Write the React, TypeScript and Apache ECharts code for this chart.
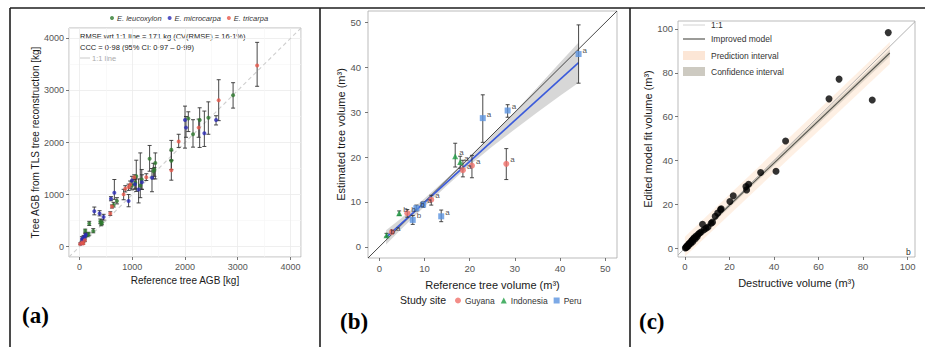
import React, { useEffect, useRef } from 'react';
import * as echarts from 'echarts';

// ---------- Panel (a): [reference AGB, TLS AGB, lower, upper] (kg)
const aLeucoxylon = [
  [60, 100, 70, 130], [108, 305, 275, 335], [150, 220, 190, 250], [172, 241, 210, 275],
  [184, 444, 405, 485], [260, 300, 265, 345], [393, 483, 440, 530], [410, 440, 400, 480],
  [425, 464, 420, 515], [646, 800, 760, 850], [709, 876, 820, 940], [994, 1175, 1090, 1260],
  [1057, 1225, 1120, 1330], [1076, 1352, 1060, 1660], [1152, 1175, 940, 1800], [1180, 1290, 1100, 1480],
  [1329, 1689, 1448, 1943], [1400, 1450, 1300, 1600], [1437, 1606, 1300, 1800], [1420, 1480, 1350, 1520],
  [1741, 1860, 1660, 2040], [1741, 1651, 1480, 1840], [2063, 2463, 2210, 2590], [2152, 2158, 1911, 2438],
  [2278, 2432, 1905, 2667], [2443, 2476, 2158, 2781], [2912, 2908, 2661, 3149],
];
const aMicrocarpa = [
  [30, 60, 40, 85], [45, 146, 110, 190], [64, 114, 80, 150], [77, 178, 140, 215],
  [90, 150, 115, 185], [108, 210, 170, 250], [120, 230, 195, 265], [280, 680, 610, 760],
  [380, 635, 590, 690], [456, 570, 510, 620], [596, 921, 880, 960], [660, 1035, 908, 1289],
  [930, 876, 765, 1000], [994, 1270, 1190, 1350], [1050, 1200, 1100, 1300], [1120, 1098, 839, 1300],
  [1183, 1238, 1100, 1380], [1374, 1321, 1054, 1500], [2000, 2432, 1892, 2699], [2019, 2286, 2100, 2500],
  [2367, 2177, 1924, 2604], [2589, 2432, 2337, 2514],
];
const aTricarpa = [
  [13, 51, 35, 70], [50, 80, 60, 100], [70, 60, 45, 80], [100, 120, 95, 145],
  [583, 635, 600, 670], [615, 770, 740, 800], [836, 1003, 900, 1100], [867, 1111, 1050, 1170],
  [930, 1143, 1080, 1200], [960, 1190, 1120, 1260], [1038, 1333, 1290, 1380], [1266, 1333, 1270, 1400],
  [1741, 1467, 1276, 1660], [1880, 2019, 1905, 2158], [2259, 2286, 2100, 2450], [2639, 2813, 2420, 3206],
  [3368, 3480, 3080, 3924],
];
const aSpecies = ['E. leucoxylon', 'E. microcarpa', 'E. tricarpa'];
const aColors = ['#2e7a2e', '#2a2ab5', '#e8574a'];
const aOneToOne = [[-200, -200], [4200, 4200]];
const aNotes = ['RMSE wrt 1:1 line = 171 kg (CV(RMSE) = 16·1%)', 'CCC = 0·98 (95% CI: 0·97 – 0·99)', '1:1 line'];

// ---------- Panel (b): [reference volume, estimated volume, lower, upper] (m3)
const bGuyana = [
  [28.1, 18.5, 15.0, 21.9], [20.5, 18.1, 15.4, 20.4], [18.5, 17.1, 15.6, 19.3],
  [11.5, 10.5, 9.3, 11.5], [6.2, 7.5, 6.6, 8.3], [2.8, 3.3, 2.9, 3.7],
];
const bGuyanaLabels = ['a', 'a', 'a', 'a', 'b', 'a'];
const bIndonesia = [
  [16.8, 20.2, 17.8, 23.1], [17.9, 18.9, 17.5, 20.2], [4.4, 7.5, 7.0, 8.0], [1.6, 2.6, 2.2, 3.0],
];
const bIndonesiaLabels = ['a', 'a', 'b', 'b'];
const bPeru = [
  [44.1, 43.0, 36.5, 49.5], [28.4, 30.4, 28.9, 31.7], [22.9, 28.7, 23.3, 33.9],
  [13.7, 6.8, 5.6, 8.2], [9.7, 9.4, 8.8, 10.0], [8.2, 8.6, 8.0, 9.3], [7.4, 6.0, 5.0, 7.0],
];
const bPeruLabels = ['a', 'a', 'a', 'a', 'a', 'b', 'b'];
const bSites = ['Guyana', 'Indonesia', 'Peru'];
const bColors = ['#f0706a', '#1f9e44', '#5b93e0'];
const bSymbols = ['circle', 'triangle', 'rect'];
const bOneToOne = [[-2.5, -2.5], [52.6, 52.6]];
const bFit = [[1.5, 2.1], [44.1, 41.1]];
const bBandX = [1.5, 5, 10, 15, 20, 25, 30, 35, 40, 44.1];
const bBandLo = [0.5, 4.1, 9.0, 13.7, 18.2, 22.4, 26.2, 30.0, 33.7, 36.6];
const bBandHi = [3.7, 6.5, 10.8, 15.3, 20.0, 25.0, 30.2, 35.6, 41.1, 45.6];

// ---------- Panel (c): [destructive volume, edited model fit volume] (m3)
const cPoints = [
  [0.2, 0.1], [0.5, 0.4], [0.8, 0.9], [1.0, 0.6], [1.3, 1.5], [1.6, 1.2], [1.9, 2.1], [2.2, 2.4],
  [2.6, 2.2], [2.9, 3.2], [3.2, 3.6], [3.5, 3.0], [3.8, 4.3], [4.2, 4.8], [4.6, 4.2], [5.0, 5.6],
  [5.5, 5.2], [6.0, 6.4], [6.6, 6.9], [7.3, 7.4], [7.9, 10.9], [8.6, 8.4], [9.5, 9.1], [10.4, 9.7],
  [11.8, 11.4], [12.4, 11.9], [13.6, 14.6], [14.7, 16.0], [16.0, 17.6], [16.3, 18.0], [20.2, 21.3],
  [21.7, 23.9], [27.4, 28.1], [27.7, 26.6], [28.6, 29.2], [34.0, 34.5], [40.9, 35.1], [45.2, 48.9],
  [64.7, 68.1], [69.2, 77.1], [84.1, 67.6], [91.3, 98.3],
];
const cOneToOne = [[-3.1, -3.1], [103.3, 103.3]];
const cFit = [[0, 0.2], [92, 89.0]];
const cPredX = [0, 92];
const cPredLo = [-3.8, 84.0];
const cPredHi = [5.2, 94.0];
const cConfX = [0, 92];
const cConfLo = [-0.6, 87.4];
const cConfHi = [1.0, 90.6];
const cLegend = ['1:1', 'Improved model', 'Prediction interval', 'Confidence interval'];

const SANS = '"Liberation Sans", Arial, Helvetica, sans-serif';
const SERIF = '"Liberation Serif", "Times New Roman", serif';

function errorBars(xi: number, rows: number[][], cap: number, color: string, z: number) {
  return {
    type: 'custom', xAxisIndex: xi, yAxisIndex: xi, z, silent: true, clip: true,
    data: rows.map((r) => [r[0], r[2], r[3]]),
    encode: { x: 0, y: [1, 2] },
    renderItem: (_p: any, api: any) => {
      const x = api.value(0);
      const lo = api.coord([x, api.value(1)]);
      const hi = api.coord([x, api.value(2)]);
      const style = { stroke: color, lineWidth: 0.9 };
      return {
        type: 'group',
        children: [
          { type: 'line', shape: { x1: lo[0], y1: lo[1], x2: hi[0], y2: hi[1] }, style },
          { type: 'line', shape: { x1: lo[0] - cap, y1: lo[1], x2: lo[0] + cap, y2: lo[1] }, style },
          { type: 'line', shape: { x1: hi[0] - cap, y1: hi[1], x2: hi[0] + cap, y2: hi[1] }, style },
        ],
      };
    },
  };
}

function band(xi: number, xs: number[], lo: number[], hi: number[], fill: string, z: number) {
  return {
    type: 'custom', xAxisIndex: xi, yAxisIndex: xi, z, silent: true, clip: true,
    data: xs.map((x, i) => [x, lo[i], hi[i]]),
    encode: { x: 0, y: [1, 2] },
    renderItem: (p: any, api: any) => {
      if (p.dataIndex !== 0) return null;
      const top = xs.map((x, i) => api.coord([x, hi[i]]));
      const bot = xs.map((x, i) => api.coord([x, lo[i]])).reverse();
      return { type: 'polygon', shape: { points: top.concat(bot) }, style: { fill } };
    },
  };
}

function axisBase(grid: number, min: number, max: number, name: string, isY: boolean, opts: any) {
  return {
    type: 'value', gridIndex: grid, min, max, name,
    nameLocation: 'middle', nameGap: opts.nameGap, nameRotate: isY ? 90 : 0,
    nameTextStyle: { fontSize: opts.nameSize, color: '#1a1a1a', fontFamily: SANS },
    axisLine: { show: false, onZero: false },
    axisTick: { show: true, length: 3, lineStyle: { color: '#555', width: 0.8 } },
    axisLabel: {
      show: true, margin: opts.margin, fontSize: opts.labelSize, color: '#555', fontFamily: SANS,
      showMinLabel: false, showMaxLabel: false, formatter: (v: number) => String(v),
    },
    splitLine: { show: !!opts.grid, lineStyle: { color: '#ebebeb', width: 0.8 } },
    minorTick: { show: false, splitNumber: 2 },
    minorSplitLine: { show: !!opts.grid, lineStyle: { color: '#f5f5f5', width: 0.6 } },
  };
}

export default function App() {
  const ref = useRef<HTMLDivElement>(null);
  useEffect(() => {
    if (!ref.current) return;
    const chart = echarts.init(ref.current, null, { renderer: 'svg' });
    const aGroups = [aLeucoxylon, aMicrocarpa, aTricarpa];
    const bGroups = [bGuyana, bIndonesia, bPeru];
    const bLabels = [bGuyanaLabels, bIndonesiaLabels, bPeruLabels];

    const series: any[] = [];
    // Panel (a)
    series.push({
      type: 'line', xAxisIndex: 0, yAxisIndex: 0, data: aOneToOne, symbol: 'none', silent: true, z: 1,
      lineStyle: { color: '#cfcfcf', width: 1.1, type: [4, 3] },
    });
    aGroups.forEach((g) => series.push(errorBars(0, g, 2, '#333', 2)));
    aGroups.forEach((g, i) => series.push({
      type: 'scatter', name: aSpecies[i], xAxisIndex: 0, yAxisIndex: 0, z: 3,
      data: g.map((r) => [r[0], r[1]]), symbol: 'circle', symbolSize: 4,
      itemStyle: { color: aColors[i] },
    }));
    // Panel (b)
    series.push(band(1, bBandX, bBandLo, bBandHi, 'rgba(160,160,160,0.42)', 1));
    series.push({
      type: 'line', xAxisIndex: 1, yAxisIndex: 1, data: bOneToOne, symbol: 'none', silent: true, z: 2,
      lineStyle: { color: '#333', width: 0.9 },
    });
    series.push({
      type: 'line', xAxisIndex: 1, yAxisIndex: 1, data: bFit, symbol: 'none', silent: true, z: 3,
      lineStyle: { color: '#3b5bdb', width: 1.6 },
    });
    bGroups.forEach((g) => series.push(errorBars(1, g, 2, '#333', 4)));
    bGroups.forEach((g, i) => series.push({
      type: 'scatter', name: bSites[i], xAxisIndex: 1, yAxisIndex: 1, z: 5,
      data: g.map((r) => [r[0], r[1]]), symbol: bSymbols[i], symbolSize: 6,
      itemStyle: { color: bColors[i] },
      label: {
        show: true, position: 'right', distance: 1, offset: [0, -4],
        formatter: (p: any) => bLabels[i][p.dataIndex],
        fontSize: 8, color: '#222', fontFamily: SANS,
      },
    }));
    // Panel (c)
    series.push(band(2, cPredX, cPredLo, cPredHi, 'rgba(252,215,185,0.38)', 1));
    series.push(band(2, cConfX, cConfLo, cConfHi, 'rgba(165,160,145,0.35)', 2));
    series.push({
      type: 'line', xAxisIndex: 2, yAxisIndex: 2, data: cOneToOne, symbol: 'none', silent: true, z: 3,
      lineStyle: { color: '#a8a8a8', width: 0.9 },
    });
    series.push({
      type: 'line', xAxisIndex: 2, yAxisIndex: 2, data: cFit, symbol: 'none', silent: true, z: 4,
      lineStyle: { color: '#55554e', width: 1.1 },
    });
    series.push({
      type: 'scatter', xAxisIndex: 2, yAxisIndex: 2, z: 5, data: cPoints,
      symbol: 'circle', symbolSize: 7, itemStyle: { color: '#000' },
    });

    const frame = { stroke: '#1e1e1e', lineWidth: 1.6 };
    const graphic: any[] = [
      { type: 'line', shape: { x1: 10, y1: 8, x2: 925, y2: 8 }, style: frame },
      { type: 'line', shape: { x1: 10, y1: 8, x2: 10, y2: 347 }, style: frame },
      { type: 'line', shape: { x1: 320, y1: 8, x2: 320, y2: 347 }, style: frame },
      { type: 'line', shape: { x1: 630, y1: 8, x2: 630, y2: 347 }, style: frame },
      { type: 'text', x: 22, y: 315, style: { text: '(a)', font: `bold 23px ${SERIF}`, fill: '#000', verticalAlign: 'middle' } },
      { type: 'text', x: 340, y: 321, style: { text: '(b)', font: `bold 23px ${SERIF}`, fill: '#000', verticalAlign: 'middle' } },
      { type: 'text', x: 639, y: 321, style: { text: '(c)', font: `bold 23px ${SERIF}`, fill: '#000', verticalAlign: 'middle' } },
      // (a) annotations
      { type: 'text', x: 80, y: 36, style: { text: aNotes[0], font: `7.5px ${SANS}`, fill: '#222', verticalAlign: 'middle' } },
      { type: 'text', x: 80, y: 47, style: { text: aNotes[1], font: `7.5px ${SANS}`, fill: '#222', verticalAlign: 'middle' } },
      { type: 'line', shape: { x1: 80, y1: 58, x2: 90, y2: 58 }, style: { stroke: '#bdbdbd', lineWidth: 0.8 } },
      { type: 'text', x: 92, y: 58, style: { text: aNotes[2], font: `7.5px ${SANS}`, fill: '#aaaaaa', verticalAlign: 'middle' } },
      // (b) legend title
      { type: 'text', x: 400, y: 300, style: { text: 'Study site', font: `10.5px ${SANS}`, fill: '#1a1a1a', verticalAlign: 'middle' } },
      // (c) legend
      { type: 'line', shape: { x1: 683, y1: 25, x2: 705, y2: 25 }, style: { stroke: '#d2d2d2', lineWidth: 1 } },
      { type: 'line', shape: { x1: 683, y1: 39, x2: 705, y2: 39 }, style: { stroke: '#4a4a44', lineWidth: 1.1 } },
      { type: 'rect', shape: { x: 683, y: 51, width: 22, height: 9 }, style: { fill: '#fce6d6' } },
      { type: 'rect', shape: { x: 683, y: 67, width: 22, height: 9 }, style: { fill: '#cdcac1' } },
      ...cLegend.map((t, i) => ({
        type: 'text', x: 711, y: [25, 39, 55.5, 71.5][i],
        style: { text: t, font: `8.5px ${SANS}`, fill: '#333', verticalAlign: 'middle' },
      })),
      { type: 'text', x: 906, y: 252, style: { text: 'b', font: `8.5px ${SANS}`, fill: '#333', verticalAlign: 'middle' } },
    ];

    chart.setOption({
      animation: false,
      backgroundColor: '#fff',
      textStyle: { fontFamily: SANS },
      grid: [
        { left: 69, top: 28, width: 232, height: 229, show: true, borderColor: '#aaa', borderWidth: 0.8, backgroundColor: '#fff' },
        { left: 368, top: 11, width: 249, height: 247, show: true, borderColor: '#aaa', borderWidth: 0.8, backgroundColor: '#fff' },
        { left: 678, top: 21, width: 237, height: 236, show: true, borderColor: '#aaa', borderWidth: 0.8, backgroundColor: '#fff' },
      ],
      xAxis: [
        axisBase(0, -200, 4200, 'Reference tree AGB [kg]', false, { nameGap: 16, nameSize: 10, margin: 5, labelSize: 9, grid: true }),
        axisBase(1, -2.5, 52.6, 'Reference tree volume (m³)', false, { nameGap: 21, nameSize: 11, margin: 5, labelSize: 9.5 }),
        axisBase(2, -3.1, 103.3, 'Destructive volume (m³)', false, { nameGap: 20, nameSize: 11, margin: 4, labelSize: 9.5 }),
      ],
      yAxis: [
        axisBase(0, -200, 4200, 'Tree AGB from TLS tree reconstruction [kg]', true, { nameGap: 28, nameSize: 10, margin: 5, labelSize: 9, grid: true }),
        axisBase(1, -2.5, 52.6, 'Estimated tree volume (m³)', true, { nameGap: 22, nameSize: 11, margin: 7, labelSize: 9.5 }),
        axisBase(2, -4, 103.6, 'Edited model fit volume (m³)', true, { nameGap: 20, nameSize: 11, margin: 5, labelSize: 9.5 }),
      ],
      legend: [
        {
          data: aSpecies, left: 110, top: 14, icon: 'circle', itemWidth: 4, itemHeight: 4, itemGap: 6,
          padding: 0, selectedMode: false,
          textStyle: { fontSize: 7.5, fontStyle: 'italic', color: '#333', fontFamily: SANS, padding: [0, 0, 0, -2] },
        },
        {
          data: bSites.map((n, i) => ({ name: n, icon: bSymbols[i] })), left: 455, top: 296,
          itemWidth: 6, itemHeight: 6, itemGap: 6, padding: 0, selectedMode: false,
          textStyle: { fontSize: 8.5, color: '#333', fontFamily: SANS, padding: [0, 0, 0, -1] },
        },
      ],
      graphic,
      series,
    });
    return () => chart.dispose();
  }, []);
  return <div ref={ref} style={{ position: 'fixed', left: 0, top: 0, width: 925, height: 347 }} />;
}
